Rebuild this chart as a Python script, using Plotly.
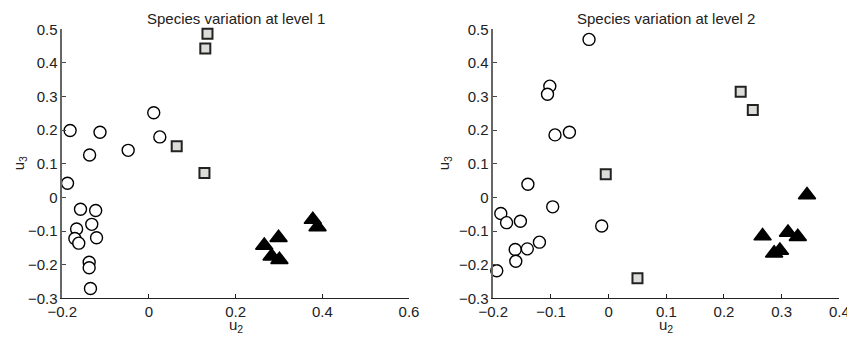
import plotly.graph_objects as go

# ---- Level 1 data ----
l1_circle_x = [-0.182, -0.113, -0.137, -0.048, 0.011, 0.025, -0.188, -0.158, -0.123, -0.132,
               -0.167, -0.121, -0.171, -0.162, -0.138, -0.138, -0.135]
l1_circle_y = [0.199, 0.194, 0.126, 0.140, 0.252, 0.180, 0.042, -0.035, -0.039, -0.080,
               -0.094, -0.120, -0.122, -0.136, -0.193, -0.209, -0.271]
l1_square_x = [0.135, 0.130, 0.064, 0.128]
l1_square_y = [0.487, 0.443, 0.152, 0.073]
l1_tri_x = [0.378, 0.389, 0.299, 0.266, 0.283, 0.301]
l1_tri_y = [-0.066, -0.088, -0.120, -0.143, -0.175, -0.185]

# ---- Level 2 data ----
l2_circle_x = [-0.034, -0.102, -0.106, -0.093, -0.068, -0.140, -0.097, -0.187, -0.177, -0.153,
               -0.012, -0.120, -0.162, -0.141, -0.161, -0.194]
l2_circle_y = [0.470, 0.331, 0.307, 0.186, 0.194, 0.039, -0.028, -0.048, -0.075, -0.071,
               -0.085, -0.133, -0.155, -0.153, -0.190, -0.218]
l2_square_x = [0.229, 0.250, -0.005, 0.050]
l2_square_y = [0.314, 0.260, 0.069, -0.240]
l2_tri_x = [0.344, 0.267, 0.311, 0.328, 0.287, 0.297]
l2_tri_y = [0.007, -0.115, -0.104, -0.117, -0.166, -0.158]

titles = ["Species variation at level 1", "Species variation at level 2"]
x_ticks_1 = [-0.2, 0, 0.2, 0.4, 0.6]
x_ticks_2 = [-0.2, -0.1, 0, 0.1, 0.2, 0.3, 0.4]
y_ticks = [-0.3, -0.2, -0.1, 0, 0.1, 0.2, 0.3, 0.4, 0.5]


def fmt(v):
    s = ("%g" % v)
    if s == "-0":
        s = "0"
    return s.replace("-", "\u2212")


# The page body has an 8px default margin: work in screen pixels and shift.
OFF = 8
W, H = 855 - OFF, 340 - OFF


def px(x):
    return (x - OFF) / W


def py(y):
    return 1 - (y - OFF) / H


dom1 = [px(62.3), px(409)]
dom2 = [px(493.3), px(839.3)]
ydom = [py(298.3), py(29.3)]

FONT = "Liberation Sans, Arial, sans-serif"
FS = 15
TXT = "#222222"

fig = go.Figure()

circle_style = dict(symbol="circle", size=12, color="white", line=dict(color="black", width=1.4))
square_style = dict(symbol="square", size=10, color="#dcdcd8", line=dict(color="#222222", width=2))
tri_style = dict(symbol="triangle-up", size=15, color="black", line=dict(color="black", width=1.5))

for xa, ya, cx, cy, sx, sy, tx, ty in [
    ("x", "y", l1_circle_x, l1_circle_y, l1_square_x, l1_square_y, l1_tri_x, l1_tri_y),
    ("x2", "y2", l2_circle_x, l2_circle_y, l2_square_x, l2_square_y, l2_tri_x, l2_tri_y),
]:
    fig.add_trace(go.Scatter(x=cx, y=cy, mode="markers", marker=circle_style, xaxis=xa, yaxis=ya,
                             showlegend=False, cliponaxis=False))
    fig.add_trace(go.Scatter(x=sx, y=sy, mode="markers", marker=square_style, xaxis=xa, yaxis=ya,
                             showlegend=False, cliponaxis=False))
    fig.add_trace(go.Scatter(x=tx, y=ty, mode="markers", marker=tri_style, xaxis=xa, yaxis=ya,
                             showlegend=False, cliponaxis=False))

tickfont = dict(family=FONT, size=FS, color=TXT)

common_x = dict(showgrid=False, zeroline=False, showline=True, linecolor="#222222", linewidth=1,
                ticks="inside", ticklen=4, tickcolor="#222222", tickfont=tickfont,
                ticklabelstandoff=0, automargin=False)
common_y = dict(showgrid=False, zeroline=False, showline=True, linecolor="#666666", linewidth=1.5,
                ticks="inside", ticklen=4, tickcolor="#444444", tickfont=tickfont,
                range=[-0.3, 0.5], tickvals=y_ticks, ticktext=[fmt(v) for v in y_ticks],
                ticklabelstandoff=0, automargin=False)

fig.update_layout(
    template="none",
    width=W, height=H,
    margin=dict(l=0, r=0, t=0, b=0, pad=0),
    paper_bgcolor="white", plot_bgcolor="white",
    font=dict(family=FONT, size=FS, color=TXT),
    xaxis=dict(domain=dom1, range=[-0.2, 0.6], tickvals=x_ticks_1,
               ticktext=[fmt(v) for v in x_ticks_1], anchor="y", **common_x),
    yaxis=dict(domain=ydom, anchor="x", **common_y),
    xaxis2=dict(domain=dom2, range=[-0.2, 0.4], tickvals=x_ticks_2,
                ticktext=[fmt(v) for v in x_ticks_2], anchor="y2", **common_x),
    yaxis2=dict(domain=ydom, anchor="x2", **common_y),
)

for dom_px, t, ylab_px in zip([(62.3, 409), (493.3, 839.3)], titles, [7, 433]):
    cx_px = (dom_px[0] + dom_px[1]) / 2
    fig.add_annotation(text=t, x=px(cx_px), y=1, xref="paper", yref="paper",
                       xanchor="center", yanchor="top", showarrow=False,
                       font=dict(family=FONT, size=FS, color=TXT))
    fig.add_annotation(text="u<sub>2</sub>", x=px(cx_px), y=py(325), xref="paper", yref="paper",
                       xanchor="center", yanchor="middle", showarrow=False,
                       font=dict(family=FONT, size=FS, color=TXT))
    fig.add_annotation(text="u<sub>3</sub>", x=max(0.0, px(ylab_px)), y=py(163.8),
                       xref="paper", yref="paper",
                       xanchor="left", yanchor="middle", showarrow=False, textangle=-90,
                       font=dict(family=FONT, size=FS, color=TXT))

fig.write_html("out.html")
